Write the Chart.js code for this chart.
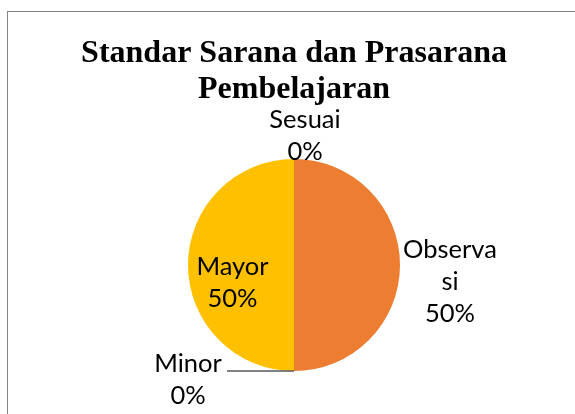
<!DOCTYPE html>
<html>
<head>
<meta charset="utf-8">
<script src="https://cdn.jsdelivr.net/npm/chart.js@4/dist/chart.umd.min.js"></script>
<style>
  html, body { margin: 0; padding: 0; background: #ffffff; overflow: hidden; }
  #frame { position: absolute; left: 7px; top: 11px; width: 700px; height: 600px;
           border-left: 1px solid #858585; border-top: 1px solid #858585; }
  #wrap { position: absolute; left: 0; top: 0; width: 575px; height: 414px; }
</style>
</head>
<body>
<div id="frame"></div>
<div id="wrap"><canvas id="c" width="575" height="414"></canvas></div>
<script>
// ---- data ----
const categories = ['Sesuai', 'Observasi', 'Minor', 'Mayor'];
const percentValues = [0, 50, 0, 50];
const sliceColors = ['#5B9BD5', '#ED7D31', '#A5A5A5', '#FFC000'];
const titleLines = ['Standar Sarana dan Prasarana', 'Pembelajaran'];

// ---- label placement (style only) ----
const labelLayout = [
  { rf: 1, extra: 23, dx: 11, dy: 0 },
  { rf: 1, extra: 50, dx: 0, dy: 17, wrap: 7 },
  { rf: 1, extra: 0, dx: -106, dy: 9, leader: 67 },
  { rf: 0.58, extra: 0, dx: 0, dy: 18 }
];

const labelPlugin = {
  id: 'sliceLabels',
  afterDatasetsDraw(chart) {
    const ctx = chart.ctx;
    const meta = chart.getDatasetMeta(0);
    const data = chart.data.datasets[0].data;
    const total = data.reduce((a, b) => a + b, 0);
    ctx.save();
    ctx.font = '25.5px Lato';
    ctx.fillStyle = '#000000';
    ctx.textAlign = 'center';
    ctx.textBaseline = 'middle';
    const lh = 32;
    meta.data.forEach((arc, i) => {
      const p = arc.getProps(['x', 'y', 'startAngle', 'endAngle', 'outerRadius'], true);
      const mid = (p.startAngle + p.endAngle) / 2;
      const L = labelLayout[i];
      const edgeX = p.x + Math.cos(mid) * p.outerRadius;
      const edgeY = p.y + Math.sin(mid) * p.outerRadius;
      const d = p.outerRadius * L.rf + L.extra;
      const cx = p.x + Math.cos(mid) * d + L.dx;
      const cy = p.y + Math.sin(mid) * d + L.dy;
      const name = categories[i];
      const lines = L.wrap ? [name.slice(0, L.wrap), name.slice(L.wrap)] : [name];
      lines.push(Math.round(data[i] / total * 100) + '%');
      if (L.leader) {
        ctx.strokeStyle = '#595959';
        ctx.lineWidth = 1.3;
        ctx.beginPath();
        ctx.moveTo(edgeX, edgeY);
        ctx.lineTo(edgeX - L.leader, edgeY);
        ctx.stroke();
      }
      const startY = cy - (lines.length - 1) * lh / 2;
      lines.forEach((t, k) => ctx.fillText(t, cx, startY + k * lh));
    });
    ctx.restore();
  }
};

new Chart(document.getElementById('c'), {
  type: 'pie',
  data: {
    labels: categories,
    datasets: [{
      data: percentValues,
      backgroundColor: sliceColors,
      borderWidth: 0
    }]
  },
  options: {
    responsive: false,
    animation: false,
    layout: { padding: { left: 13, right: 0, top: 0, bottom: 43 } },
    plugins: {
      legend: { display: false },
      tooltip: { enabled: false },
      title: {
        display: true,
        text: titleLines,
        color: '#000000',
        font: { family: 'Liberation Serif', size: 32, weight: 'bold', lineHeight: 1.125 },
        padding: { top: 36, bottom: 51 }
      }
    }
  },
  plugins: [labelPlugin]
});
</script>
</body>
</html>
